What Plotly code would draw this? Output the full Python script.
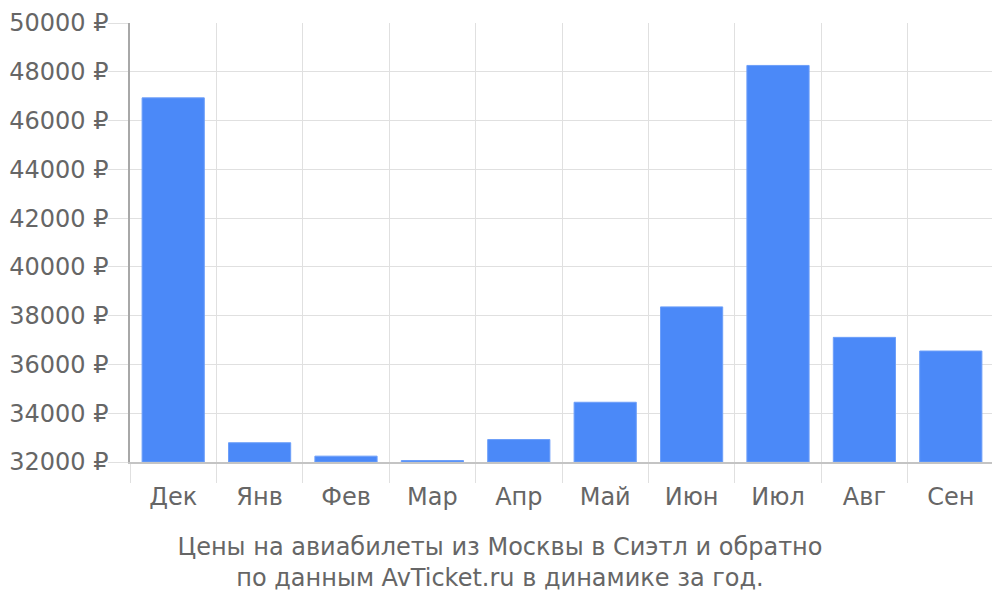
import plotly.graph_objects as go

# данные: цены на билеты Москва - Сиэтл - Москва по месяцам
months = ["Дек", "Янв", "Фев", "Мар", "Апр", "Май", "Июн", "Июл", "Авг", "Сен"]
prices = [46930, 32790, 32240, 32060, 32920, 34450, 38360, 48260, 37110, 36550]
y_ticks = [32000, 34000, 36000, 38000, 40000, 42000, 44000, 46000, 48000, 50000]

title_text = ("Цены на авиабилеты из Москвы в Сиэтл и обратно<br>"
              "по данным AvTicket.ru в динамике за год.")

font_family = "DejaVu Sans"
text_color = "#666666"
fsize = 24
# страница открывается с отступом body 8px - компенсируем полями
off = 8

fig = go.Figure()
fig.add_trace(go.Bar(
    x=months,
    y=[p - y_ticks[0] for p in prices],
    base=y_ticks[0],
    marker=dict(color="#4b89f8", line=dict(color="#6d9ff9", width=1)),
    hoverinfo="x+y",
))

fig.update_layout(
    width=1000, height=600,
    margin=dict(l=130 - off, r=6 + off, t=15, b=138 + off),
    paper_bgcolor="white", plot_bgcolor="white",
    bargap=0.28,
    showlegend=False,
    font=dict(family=font_family, size=fsize, color=text_color),
    title=dict(text=title_text, x=(500 - off) / 1000, xref="container", xanchor="center",
               y=1 - (555 - off) / 600, yref="container", yanchor="middle",
               font=dict(family=font_family, size=fsize, color=text_color)),
)

fig.update_xaxes(
    type="category",
    tickson="boundaries",
    automargin=False,
    showgrid=True, gridcolor="#e0e0e0", gridwidth=1,
    ticks="outside", ticklen=19, tickcolor="#e0e0e0", tickwidth=1,
    ticklabelstandoff=12,
    showline=True, linecolor="#c4c4c4", linewidth=1.5,
    mirror=False,
    tickfont=dict(size=fsize, color=text_color),
)

fig.update_yaxes(
    range=[y_ticks[0], y_ticks[-1]],
    tickvals=y_ticks,
    ticktext=[f"{v} ₽" for v in y_ticks],
    automargin=False,
    showgrid=True, gridcolor="#e0e0e0", gridwidth=1,
    ticks="outside", ticklen=20, tickcolor="#e0e0e0", tickwidth=1,
    ticklabelstandoff=-5,
    ticklabeloverflow="allow",
    showline=True, linecolor="#a8a8a8", linewidth=1.5,
    zeroline=False,
    tickfont=dict(size=fsize, color=text_color),
)

# рамка справа, как в оригинале
fig.add_shape(type="line", xref="paper", yref="paper", x0=1, x1=1, y0=0, y1=1,
              line=dict(color="#e0e0e0", width=1))

fig.write_html("out.html")
